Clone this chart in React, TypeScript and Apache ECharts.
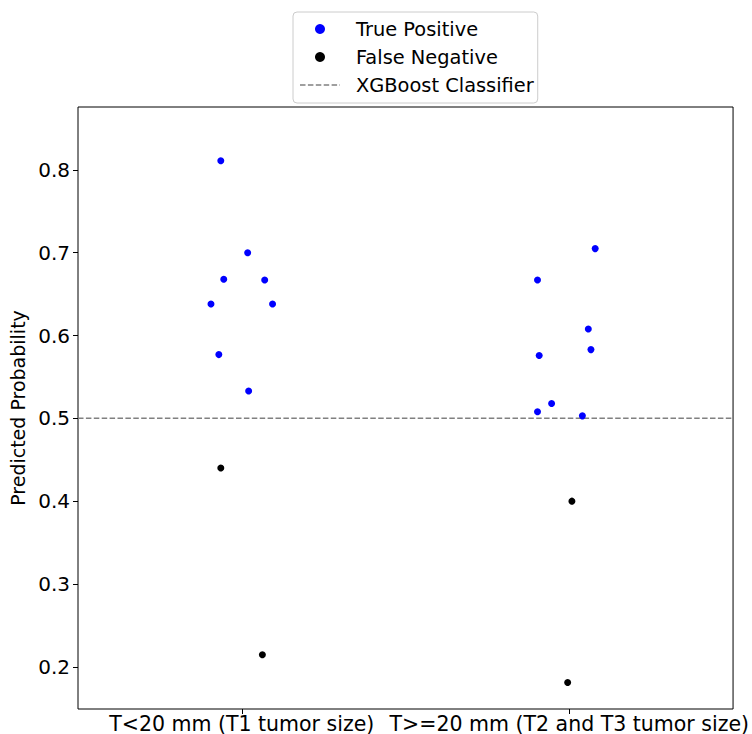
import React, { useEffect, useRef } from "react";
import * as echarts from "echarts";

const categories = ["T<20 mm (T1 tumor size)", "T>=20 mm (T2 and T3 tumor size)"];
const yTicks = [0.2, 0.3, 0.4, 0.5, 0.6, 0.7, 0.8];
const threshold = 0.5;

// [jittered x position (category index + jitter), predicted probability]
const truePositive: [number, number][] = [
  [-0.064, 0.811],
  [-0.055, 0.668],
  [0.018, 0.7],
  [0.07, 0.667],
  [-0.094, 0.638],
  [0.094, 0.638],
  [-0.07, 0.577],
  [0.021, 0.533],
  [1.079, 0.705],
  [0.903, 0.667],
  [1.058, 0.608],
  [1.066, 0.583],
  [0.908, 0.576],
  [0.946, 0.518],
  [0.903, 0.508],
  [1.04, 0.503],
];
const falseNegative: [number, number][] = [
  [-0.064, 0.44],
  [0.063, 0.2145],
  [1.008, 0.4],
  [0.995, 0.181],
];

export default function App() {
  const ref = useRef<HTMLDivElement>(null);
  useEffect(() => {
    document.body.style.margin = "0";
    const chart = echarts.init(ref.current!, null, { renderer: "svg" });
    const font = "DejaVu Sans";
    chart.setOption({
      animation: false,
      backgroundColor: "#fff",
      textStyle: { fontFamily: font },
      legend: {
        orient: "vertical",
        left: 293,
        top: 12,
        padding: [7, 4, 8, 7],
        borderColor: "#cccccc",
        borderWidth: 1,
        borderRadius: 4,
        itemWidth: 40,
        itemHeight: 10,
        itemGap: 8,
        textStyle: {
          fontSize: 19.4,
          color: "#000",
          fontFamily: font,
          lineHeight: 20,
          padding: [0, 0, 0, 11],
        },
        data: [
          { name: "True Positive", icon: "circle" },
          { name: "False Negative", icon: "circle" },
          { name: "XGBoost Classifier", icon: "rect", itemStyle: { opacity: 0 } },
        ],
      },
      graphic: [
        {
          type: "line",
          shape: { x1: 300, y1: 85, x2: 340, y2: 85 },
          style: { stroke: "#808080", lineWidth: 1.5, lineDash: [5.5, 2.4] },
          z: 100,
        },
      ],
      grid: {
        left: 78,
        right: 17,
        top: 107,
        bottom: 25,
        show: true,
        borderColor: "#000",
        borderWidth: 1,
        containLabel: false,
      },
      xAxis: {
        type: "value",
        min: -0.5,
        max: 1.5,
        splitLine: { show: false },
        axisLine: { show: false, onZero: false },
        axisTick: { show: true, customValues: [0, 1], length: 5, lineStyle: { color: "#000" } },
        axisLabel: {
          customValues: [0, 1],
          formatter: (v: number) => categories[Math.round(v)] ?? "",
          fontSize: 20.5,
          color: "#000",
          fontFamily: font,
          margin: 4,
        },
      },
      yAxis: {
        type: "value",
        min: 0.149,
        max: 0.876,
        name: "Predicted Probability",
        nameLocation: "middle",
        nameRotate: 90,
        nameGap: 47,
        nameTextStyle: { fontSize: 19, color: "#000", fontFamily: font },
        splitLine: { show: false },
        axisLine: { show: false, onZero: false },
        axisTick: { show: true, customValues: yTicks, length: 5, lineStyle: { color: "#000" } },
        axisLabel: {
          customValues: yTicks,
          formatter: (v: number) => v.toFixed(1),
          fontSize: 20,
          color: "#000",
          fontFamily: font,
          margin: 8,
        },
      },
      series: [
        {
          name: "True Positive",
          type: "scatter",
          data: truePositive,
          symbolSize: 7,
          itemStyle: { color: "#0000ff", opacity: 1 },
          z: 3,
        },
        {
          name: "False Negative",
          type: "scatter",
          data: falseNegative,
          symbolSize: 7,
          itemStyle: { color: "#000000", opacity: 1 },
          z: 3,
        },
        {
          name: "XGBoost Classifier",
          type: "line",
          data: [
            [-0.5, threshold],
            [1.5, threshold],
          ],
          symbol: "none",
          lineStyle: { color: "#808080", type: [5.5, 2.4], width: 1.5 },
          itemStyle: { color: "#808080" },
          z: 2,
        },
      ],
    });
    return () => chart.dispose();
  }, []);
  return <div ref={ref} style={{ width: 752, height: 734 }} />;
}
